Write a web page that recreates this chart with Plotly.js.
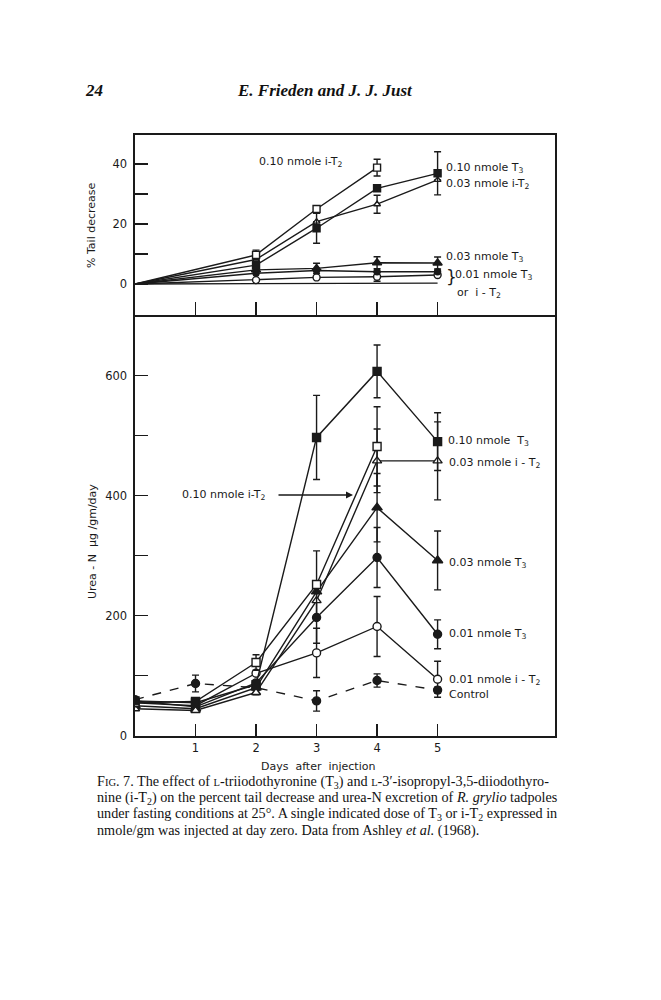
<!DOCTYPE html>
<html>
<head>
<meta charset="utf-8">
<script src="https://cdn.plot.ly/plotly-3.0.1.min.js"></script>
<style>html,body{margin:0;padding:0;background:#fff;}#chart{width:661px;height:1000px;}</style>
</head>
<body>
<div id="chart"></div>
<script>
// ---------- data ----------
const dayTicks = [1, 2, 3, 4, 5];
const daysAll = [0, 1, 2, 3, 4, 5];
const daysUreaShort = [0, 1, 2, 3, 4];
const tailDays = [0, 2, 3, 4, 5];
const tailDaysShort = [0, 2, 3, 4];

// % tail decrease
const tailIT2_010 = [0, 9.7, 25, 38.8];
const tailIT2_010Err = [0, 1.6, 0, 2.8];
const tailT3_010 = [0, 6.3, 18.6, 31.9, 36.9];
const tailT3_010Err = [0, 0, 5, 0, 7.2];
const tailIT2_003 = [0, 8.2, 20.8, 26.6, 34.7];
const tailIT2_003Err = [0, 0, 0, 3, 0];
const tailT3_003 = [0, 4.7, 5.2, 7.1, 7.0];
const tailT3_003Err = [0, 0, 1.7, 2, 2];
const tailT3_001 = [0, 3.6, 4.5, 4.1, 4.1];
const tailIT2_001 = [0, 1.3, 2.2, 2.4, 3.0];
const tailIT2_001Err = [0, 0, 0, 1.5, 0];
const tailControl = [0, 0.2, 0.2, 0.3, 0.3];

// Urea-N excretion
const ureaT3_010 = [58, 55, 85, 497, 607, 490];
const ureaT3_010Err = [0, 0, 0, 70, 44, 48];
const ureaIT2_010 = [55, 57, 122, 252, 482];
const ureaIT2_010Err = [0, 0, 13, 56, 66];
const ureaIT2_003 = [45, 42, 72, 225, 458, 458];
const ureaIT2_003Err = [0, 0, 0, 0, 53, 65];
const ureaT3_003 = [50, 45, 80, 240, 380, 292];
const ureaT3_003Err = [0, 0, 0, 0, 57, 49];
const ureaT3_001 = [58, 48, 88, 197, 297, 169];
const ureaT3_001Err = [0, 0, 0, 43, 50, 24];
const ureaIT2_001 = [55, 50, 104, 138, 182, 94];
const ureaIT2_001Err = [0, 0, 0, 41, 50, 30];
const ureaControl = [60, 87, 80, 58, 92, 76];
const ureaControlErr = [0, 14, 12, 17, 11, 5];

const tailTickVals = [0, 10, 20, 30, 40];
const tailTickText = ['0', '', '20', '', '40'];
const ureaTickVals = [0, 100, 200, 300, 400, 500, 600];
const ureaTickText = ['0', '', '200', '', '400', '', '600'];

// ---------- styling ----------
const W = 661, H = 1000;
const INK = '#1a1a1a';
const SANS = 'DejaVu Sans, sans-serif';
const SERIF = 'Liberation Serif, DejaVu Serif, serif';

function tr(x, y, err, sym, size, dash, xa, ya, filled, hideFirst) {
  const t = {
    x: x, y: y, type: 'scatter', mode: 'lines+markers',
    xaxis: xa, yaxis: ya,
    line: {color: INK, width: 1.4, dash: dash || 'solid'},
    marker: {symbol: sym, size: size, opacity: 1, color: filled ? INK : '#fff',
             line: {color: INK, width: 1.4}},
    hoverinfo: 'skip'
  };
  if (hideFirst) t.marker.size = x.map((_, i) => i === 0 ? 0 : size);
  if (err) {
    t.error_y = {type: 'data', array: err, visible: true, color: INK, thickness: 1.4, width: 3.5};
  }
  return t;
}

const data = [
  // top panel
  tr(tailDays, tailControl, null, 'circle', 0, 'solid', 'x', 'y', true, true),
  tr(tailDays, tailIT2_001, tailIT2_001Err, 'circle', 7, 'solid', 'x', 'y', false, true),
  tr(tailDays, tailT3_001, null, 'circle', 6, 'solid', 'x', 'y', true, true),
  tr(tailDays, tailT3_003, tailT3_003Err, 'triangle-up', 8, 'solid', 'x', 'y', true, true),
  tr(tailDays, tailIT2_003, tailIT2_003Err, 'triangle-up', 6, 'solid', 'x', 'y', false, true),
  tr(tailDays, tailT3_010, tailT3_010Err, 'square', 7, 'solid', 'x', 'y', true, true),
  tr(tailDaysShort, tailIT2_010, tailIT2_010Err, 'square', 7, 'solid', 'x', 'y', false, true),
  // bottom panel
  tr(daysAll, ureaControl, ureaControlErr, 'circle', 8, 'dash', 'x2', 'y2', true),
  tr(daysAll, ureaIT2_001, ureaIT2_001Err, 'circle', 8, 'solid', 'x2', 'y2', false),
  tr(daysAll, ureaT3_001, ureaT3_001Err, 'circle', 8, 'solid', 'x2', 'y2', true),
  tr(daysAll, ureaT3_003, ureaT3_003Err, 'triangle-up', 9, 'solid', 'x2', 'y2', true),
  tr(daysAll, ureaIT2_003, ureaIT2_003Err, 'triangle-up', 8, 'solid', 'x2', 'y2', false),
  tr(daysUreaShort, ureaIT2_010, ureaIT2_010Err, 'square', 8, 'solid', 'x2', 'y2', false),
  tr(daysAll, ureaT3_010, ureaT3_010Err, 'square', 8, 'solid', 'x2', 'y2', true)
];

const xDom = [135 / W, 555 / W];
const axBase = {
  showline: true, linecolor: INK, linewidth: 1.6, mirror: true,
  showgrid: false, zeroline: false, ticks: 'inside', tickcolor: INK,
  tickwidth: 1.4, tickfont: {family: SANS, size: 11.5, color: INK}
};

function A(px, py, text, o) {
  return Object.assign({
    xref: 'paper', yref: 'paper', x: px / W, y: 1 - py / H, text: text,
    showarrow: false, xanchor: 'left', yanchor: 'middle',
    font: {family: SANS, size: 11, color: INK}
  }, o || {});
}
const capFont = {family: SERIF, size: 14.2, color: '#111'};
const sc = s => "<span style='font-size:10.5px'>" + s + "</span>";

const annotations = [
  // header
  A(83, 91, '<b><i>24</i></b>', {font: {family: SERIF, size: 17, color: '#111'}}),
  A(325, 91, '<b><i>E. Frieden and J. J. Just</i></b>', {xanchor: 'center', font: {family: SERIF, size: 17, color: '#111'}}),
  // top panel labels
  A(257, 162, '0.10 nmole i-T<sub>2</sub>'),
  A(444, 168, '0.10 nmole T<sub>3</sub>'),
  A(444, 184, '0.03 nmole i-T<sub>2</sub>'),
  A(444, 257, '0.03 nmole T<sub>3</sub>'),
  A(444, 277, '}', {font: {family: SANS, size: 17, color: INK}}),
  A(453, 275, '0.01 nmole T<sub>3</sub>'),
  A(455, 293, 'or  i - T<sub>2</sub>'),
  A(92, 225, '% Tail decrease', {xanchor: 'center', textangle: -90}),
  // bottom panel labels
  A(446, 441, '0.10 nmole  T<sub>3</sub>'),
  A(447, 463, '0.03 nmole i - T<sub>2</sub>'),
  A(180, 495, '0.10 nmole i-T<sub>2</sub>'),
  A(447, 563, '0.03 nmole T<sub>3</sub>'),
  A(447, 634, '0.01 nmole T<sub>3</sub>'),
  A(447, 680, '0.01 nmole i - T<sub>2</sub>'),
  A(447, 694, 'Control'),
  A(92, 542, 'Urea - N  \u03bcg /gm/day', {xanchor: 'center', textangle: -90}),
  A(318, 766, 'Days  after  injection', {xanchor: 'center'}),
  {xref: 'paper', yref: 'paper', x: 353 / W, y: 1 - 495 / H, ax: -76, ay: 0,
   text: '', showarrow: true, arrowhead: 2, arrowsize: 1, arrowwidth: 1.4, arrowcolor: INK},
  // caption
  A(95, 782, 'F' + sc('IG') + '. 7. The effect of ' + sc('L') + '-triiodothyronine (T<sub>3</sub>) and ' + sc('L') + '-3\u2032-isopropyl-3,5-diiodothyro-', {font: capFont}),
  A(95, 798, 'nine (i-T<sub>2</sub>) on the percent tail decrease and urea-N excretion of <i>R. grylio</i> tadpoles', {font: capFont}),
  A(95, 814, 'under fasting conditions at 25\u00b0. A single indicated dose of T<sub>3</sub> or i-T<sub>2</sub> expressed in', {font: capFont}),
  A(95, 830, 'nmole/gm was injected at day zero. Data from Ashley <i>et al.</i> (1968).', {font: capFont})
];

const layout = {
  width: W, height: H,
  margin: {l: 0, r: 0, t: 0, b: 0},
  paper_bgcolor: '#fff', plot_bgcolor: '#fff',
  showlegend: false,
  xaxis: Object.assign({}, axBase, {domain: xDom, range: [0, 6.94], anchor: 'y',
    tickvals: dayTicks, showticklabels: false, ticklen: 13}),
  yaxis: Object.assign({}, axBase, {domain: [0.685, 0.865], range: [-10.33, 49.67], anchor: 'x',
    tickvals: tailTickVals, ticktext: tailTickText, ticklen: 13, ticklabelstandoff: 4}),
  xaxis2: Object.assign({}, axBase, {domain: xDom, range: [0, 6.94], anchor: 'y2', mirror: false,
    tickvals: dayTicks, ticklen: 12, ticklabelstandoff: 1}),
  yaxis2: Object.assign({}, axBase, {domain: [0.264, 0.685], range: [-0.5, 701], anchor: 'x2',
    tickvals: ureaTickVals, ticktext: ureaTickText, ticklen: 13, ticklabelstandoff: 4}),
  annotations: annotations
};

Plotly.newPlot('chart', data, layout, {staticPlot: true, displayModeBar: false});
</script>
</body>
</html>
